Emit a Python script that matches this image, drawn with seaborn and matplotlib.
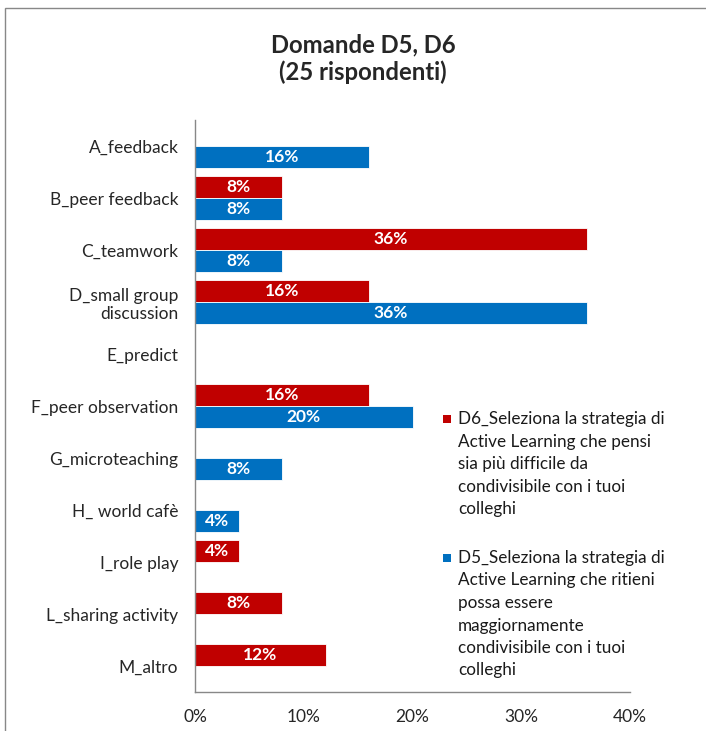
import matplotlib
matplotlib.use('Agg')
import matplotlib.pyplot as plt
from matplotlib.patches import Rectangle
import seaborn as sns
import pandas as pd

categories = ['A_feedback', 'B_peer feedback', 'C_teamwork', 'D_small group\ndiscussion',
              'E_predict', 'F_peer observation', 'G_microteaching', 'H_ world cafè',
              'I_role play', 'L_sharing activity', 'M_altro']
d6_values = [0, 8, 36, 16, 0, 16, 0, 0, 4, 8, 12]
d5_values = [16, 8, 8, 36, 0, 20, 8, 4, 0, 0, 0]
d6_lines = ['D6_Seleziona la strategia di', 'Active Learning che pensi', 'sia più difficile da',
            'condivisibile con i tuoi', 'colleghi']
d5_lines = ['D5_Seleziona la strategia di', 'Active Learning che ritieni', 'possa essere',
            'maggiornamente', 'condivisibile con i tuoi', 'colleghi']
x_ticks = [0, 10, 20, 30, 40]

sns.set_style('white')
plt.rcParams['font.family'] = ['Lato', 'DejaVu Sans']

df = pd.DataFrame({
    'categoria': categories * 2,
    'valore': d6_values + d5_values,
    'serie': ['D6'] * len(categories) + ['D5'] * len(categories),
})
colors = {'D6': '#C00000', 'D5': '#0070C0'}

W, H = 706, 731
fig = plt.figure(figsize=(7.06, 7.31), dpi=100)
ax = fig.add_axes([195 / W, 1 - 692 / H, (630 - 195) / W, (692 - 120) / H])

sns.barplot(data=df, x='valore', y='categoria', hue='serie', hue_order=['D6', 'D5'],
            order=categories, palette=colors, saturation=1, orient='h', width=0.83, ax=ax,
            edgecolor='white', linewidth=0.6)
ax.get_legend().remove()

for cont in ax.containers:
    labels = [f'{v:.0f}%' if v > 0 else '' for v in cont.datavalues]
    ax.bar_label(cont, labels=labels, label_type='center', color='white',
                 fontweight='bold', fontsize=12.5)

ax.set_xlim(0, 40)
ax.set_ylim(len(categories) - 0.5, -0.5)
ax.set_xticks(x_ticks)
ax.set_xticklabels([f'{t}%' for t in x_ticks], fontsize=12.5)
ax.set_yticks(range(len(categories)))
ax.set_yticklabels(categories, fontsize=12.5)
ax.set_xlabel('')
ax.set_ylabel('')

# tacche tra le categorie
ax.set_yticks([i + 0.5 for i in range(-1, len(categories))], minor=True)
ax.tick_params(axis='y', which='major', length=0, pad=12)
ax.tick_params(axis='y', which='minor', length=5, color='#888888', direction='out')
ax.tick_params(axis='x', length=5, color='#888888', direction='out', pad=7)
for s in ['top', 'right']:
    ax.spines[s].set_visible(False)
for s in ['left', 'bottom']:
    ax.spines[s].set_color('#888888')
    ax.spines[s].set_linewidth(1)

fig.text(363 / W, 1 - 45 / H, 'Domande D5, D6', ha='center', va='center',
         fontsize=17.2, fontweight='bold')
fig.text(363 / W, 1 - 72 / H, '(25 rispondenti)', ha='center', va='center',
         fontsize=17.2, fontweight='bold')

# legenda a mano
for lines, key, y0 in [(d6_lines, 'D6', 419), (d5_lines, 'D5', 558)]:
    fig.patches.append(Rectangle((443 / W, 1 - (y0 + 4) / H), 8 / W, 8 / H,
                                 transform=fig.transFigure, facecolor=colors[key],
                                 edgecolor='none'))
    for i, line in enumerate(lines):
        fig.text(458 / W, 1 - (y0 + 22.5 * i) / H, line, ha='left', va='center',
                 fontsize=12.3, color='#1a1a1a')

fig.patches.append(Rectangle((5 / W, -0.1), 1.2, 1.1 - 8 / H, transform=fig.transFigure,
                             fill=False, edgecolor='#888888', linewidth=1))

plt.savefig('out.png', dpi=100)
